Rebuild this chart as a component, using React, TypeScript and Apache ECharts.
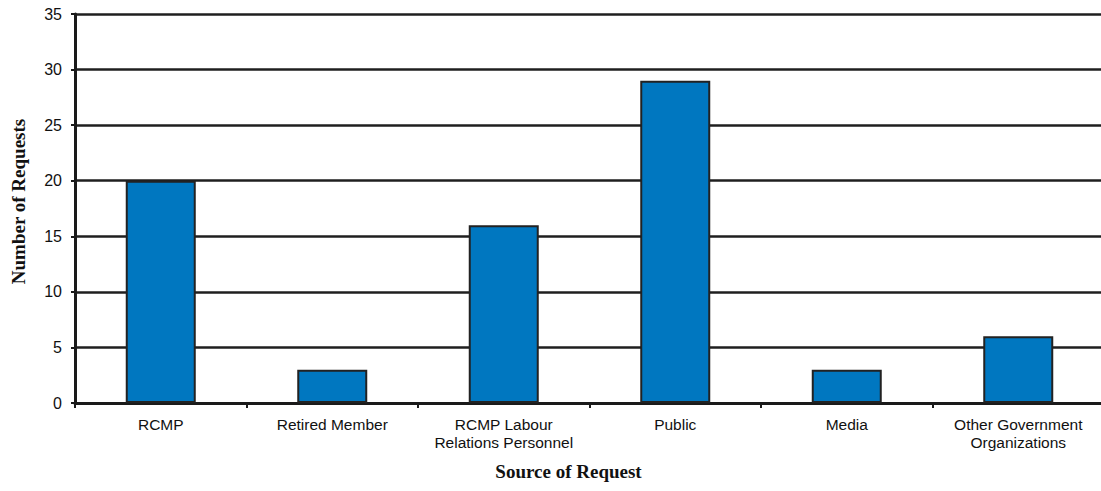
import React, { useEffect, useRef } from "react";
import * as echarts from "echarts";

const categories = [
  "RCMP",
  "Retired Member",
  "RCMP Labour\nRelations Personnel",
  "Public",
  "Media",
  "Other Government\nOrganizations",
];
const requests = [20, 3, 16, 29, 3, 6];
const yTicks = { min: 0, max: 35, interval: 5 };

export default function App() {
  const ref = useRef<HTMLDivElement>(null);
  useEffect(() => {
    if (!ref.current) return;
    const chart = echarts.init(ref.current, null, { renderer: "svg" });
    chart.setOption({
      animation: false,
      backgroundColor: "#ffffff",
      grid: {
        left: 75,
        right: -3,
        top: 14,
        bottom: 88,
        containLabel: false,
        outerBoundsMode: "none",
      },
      xAxis: {
        type: "category",
        data: categories,
        name: "Source of Request",
        nameLocation: "middle",
        nameGap: 59,
        nameTextStyle: {
          fontFamily: "Liberation Serif",
          fontWeight: "bold",
          fontSize: 19,
          color: "#111",
          padding: [0, 42, 0, 0],
        },
        axisLine: { lineStyle: { color: "#1a1a1a", width: 3 } },
        axisTick: { show: true, length: 5, lineStyle: { color: "#1a1a1a", width: 2 } },
        axisLabel: {
          fontFamily: "Liberation Sans",
          fontSize: 15.5,
          color: "#111",
          margin: 12,
          lineHeight: 18,
          interval: 0,
        },
      },
      yAxis: {
        type: "value",
        min: yTicks.min,
        max: yTicks.max,
        interval: yTicks.interval,
        name: "Number of Requests",
        nameLocation: "middle",
        nameGap: 47,
        nameTextStyle: {
          fontFamily: "Liberation Serif",
          fontWeight: "bold",
          fontSize: 19,
          color: "#111",
          padding: [0, 0, 0, 14],
        },
        axisLine: { show: true, lineStyle: { color: "#1a1a1a", width: 3 } },
        axisTick: { show: true, length: 4, lineStyle: { color: "#1a1a1a", width: 2 } },
        axisLabel: {
          fontFamily: "Liberation Sans",
          fontSize: 16,
          color: "#111",
          margin: 13,
        },
        splitLine: { show: true, lineStyle: { color: "#1f1f1f", width: 2.5 } },
      },
      series: [
        {
          type: "bar",
          data: requests,
          barWidth: 70,
          itemStyle: { color: "#0077c0", borderColor: "#222", borderWidth: 2 },
        },
      ],
    });
    return () => chart.dispose();
  }, []);
  return (
    <div
      ref={ref}
      style={{ position: "fixed", left: 0, top: 0, width: 1101, height: 491 }}
    />
  );
}
